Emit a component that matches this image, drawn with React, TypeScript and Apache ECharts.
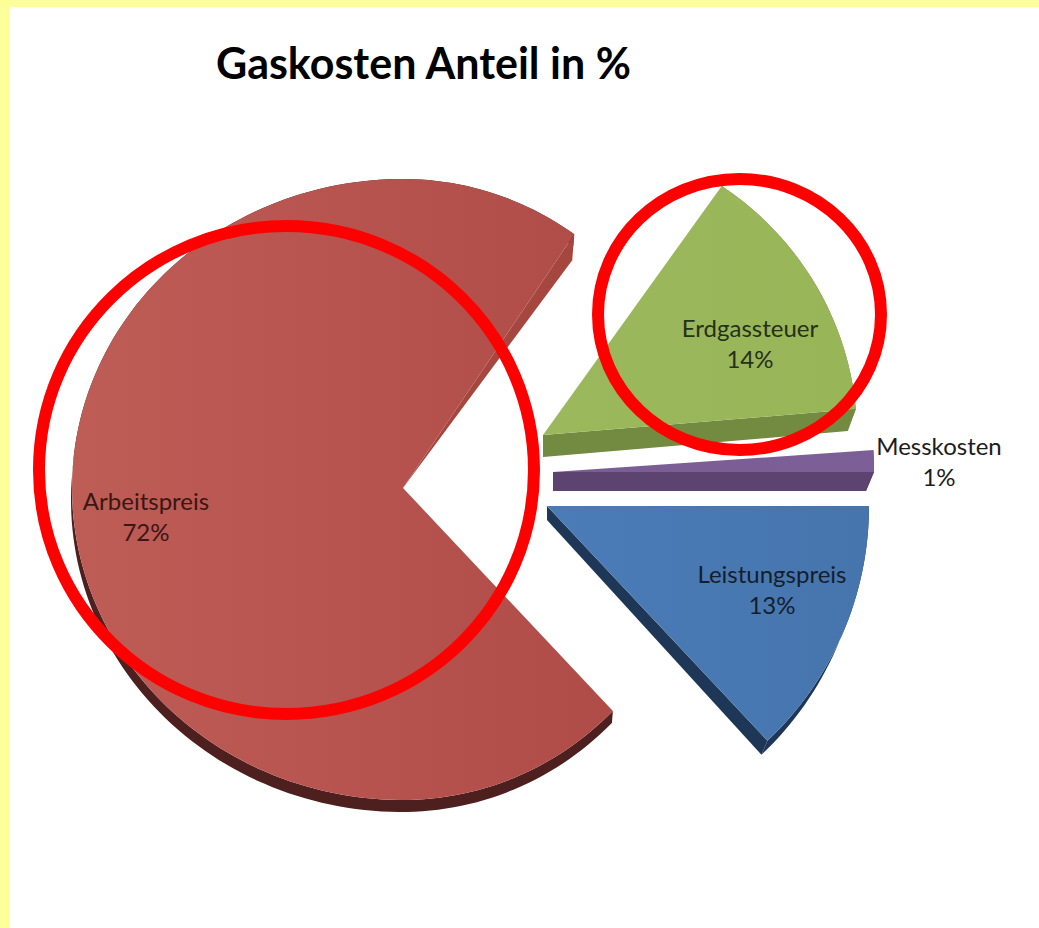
import React, { useEffect, useRef } from "react";
import * as echarts from "echarts";

const titleText = "Gaskosten Anteil in %";
const categories = ["Messkosten", "Erdgassteuer", "Arbeitspreis", "Leistungspreis"];
const shares = [1, 14, 72, 13];

type V = [number, number];
type SliceLayout = {
  cx: number; cy: number;
  rxRight: number; rxLeft: number; ryTop: number; ryBottom: number;
  rotate: number;
  topFrom: string; topTo: string;
  arcColor: string; edgeColor: string;
  arcDepth: V;
  edgeApexDepth: V; edgeTipDepth: V;
  labelX: number; labelY: number; labelColor: string;
};

const layouts: SliceLayout[] = [
  { cx: 553, cy: 472, rxRight: 321, rxLeft: 321, ryTop: 350, ryBottom: 321, rotate: 0,
    topFrom: "#7b5d96", topTo: "#7c5f97", arcColor: "#5d4470", edgeColor: "#5d4470",
    arcDepth: [-8, 19], edgeApexDepth: [0, 19], edgeTipDepth: [-8, 19],
    labelX: 939, labelY: 461, labelColor: "#1c1c1c" },
  { cx: 543, cy: 435, rxRight: 314, rxLeft: 314, ryTop: 303, ryBottom: 303, rotate: 1.3,
    topFrom: "#9bb85c", topTo: "#98b558", arcColor: "#738a41", edgeColor: "#738a41",
    arcDepth: [-8, 20], edgeApexDepth: [0, 22], edgeTipDepth: [-8, 22],
    labelX: 750, labelY: 343, labelColor: "#26301a" },
  { cx: 403, cy: 488, rxRight: 300, rxLeft: 331, ryTop: 309, ryBottom: 312, rotate: 1.2,
    topFrom: "#be5c56", topTo: "#b04c48", arcColor: "#4e1f1f", edgeColor: "#a5463f",
    arcDepth: [-1, 12], edgeApexDepth: [0, 0], edgeTipDepth: [-2, 26],
    labelX: 146, labelY: 516, labelColor: "#3a1614" },
  { cx: 547, cy: 506, rxRight: 322, rxLeft: 322, ryTop: 322, ryBottom: 322, rotate: 0,
    topFrom: "#4b7cb8", topTo: "#4675ad", arcColor: "#1f3756", edgeColor: "#1f3756",
    arcDepth: [-6, 14], edgeApexDepth: [0, 14], edgeTipDepth: [-6, 14],
    labelX: 772, labelY: 589, labelColor: "#141e2c" },
];

const total = shares.reduce((a, b) => a + b, 0);

function arcPoints(l: SliceLayout, from: number, to: number): V[] {
  const pts: V[] = [];
  const steps = Math.max(4, Math.ceil((to - from) / 1.5));
  for (let i = 0; i <= steps; i++) {
    const deg = from + ((to - from) * i) / steps;
    const a = (deg * Math.PI) / 180;
    const c = Math.cos(a);
    const s = Math.sin(a);
    pts.push([
      l.cx + c * (c < 0 ? l.rxLeft : l.rxRight),
      l.cy - s * (s > 0 ? l.ryTop : l.ryBottom),
    ]);
  }
  return pts;
}

const shift = (p: V, d: V): V => [p[0] + d[0], p[1] + d[1]];

function renderSlice(params: any, api: any) {
  const i = params.dataIndex;
  const l = layouts[i];
  const before = shares.slice(0, i).reduce((a, b) => a + b, 0);
  const from = (before / total) * 360 + l.rotate;
  const to = ((before + api.value(0)) / total) * 360 + l.rotate;
  const arc = arcPoints(l, from, to);
  const apex: V = [l.cx, l.cy];
  const tip = arc[0];
  const band = [...arc, ...arc.slice().reverse().map((p) => shift(p, l.arcDepth))];
  const edgeFace = [apex, tip, shift(tip, l.edgeTipDepth), shift(apex, l.edgeApexDepth)];
  const fill = new echarts.graphic.LinearGradient(0, 0, 1, 0, [
    { offset: 0, color: l.topFrom },
    { offset: 1, color: l.topTo },
  ]);
  return {
    type: "group",
    children: [
      { type: "polygon", shape: { points: band }, style: { fill: l.arcColor } },
      { type: "polygon", shape: { points: edgeFace }, style: { fill: l.edgeColor } },
      { type: "polygon", shape: { points: [apex, ...arc] }, style: { fill } },
      {
        type: "text",
        style: {
          x: l.labelX,
          y: l.labelY,
          text: `${categories[i]}\n${api.value(0)}%`,
          align: "center",
          verticalAlign: "middle",
          lineHeight: 31,
          fontFamily: "Lato",
          fontSize: 24,
          fill: l.labelColor,
        },
      },
    ],
  };
}

export default function App() {
  const ref = useRef<HTMLDivElement>(null);
  useEffect(() => {
    document.body.style.margin = "0";
    const chart = echarts.init(ref.current!, undefined, { renderer: "svg" });
    chart.setOption({
      animation: false,
      backgroundColor: "#ffffff",
      title: {
        text: titleText,
        left: 211,
        top: 36,
        textStyle: { fontFamily: "Lato", fontWeight: "bold", fontSize: 43, color: "#000000" },
      },
      series: [
        {
          type: "custom",
          coordinateSystem: "none",
          silent: true,
          renderItem: renderSlice,
          data: shares.map((v) => [v]),
        },
      ],
      graphic: [
        { type: "rect", z: 1, shape: { x: 0, y: 0, width: 1039, height: 7 }, style: { fill: "#ffff99" } },
        { type: "rect", z: 1, shape: { x: 0, y: 0, width: 10, height: 928 }, style: { fill: "#ffff99" } },
        { type: "ellipse", z: 20, shape: { cx: 286.5, cy: 470, rx: 247.5, ry: 244 }, style: { fill: "none", stroke: "#ff0000", lineWidth: 12 } },
        { type: "ellipse", z: 20, shape: { cx: 739.5, cy: 314.5, rx: 141.5, ry: 135.5 }, style: { fill: "none", stroke: "#ff0000", lineWidth: 12 } },
      ],
    });
    return () => chart.dispose();
  }, []);
  return <div ref={ref} style={{ position: "fixed", left: 0, top: 0, width: 1039, height: 928 }} />;
}
